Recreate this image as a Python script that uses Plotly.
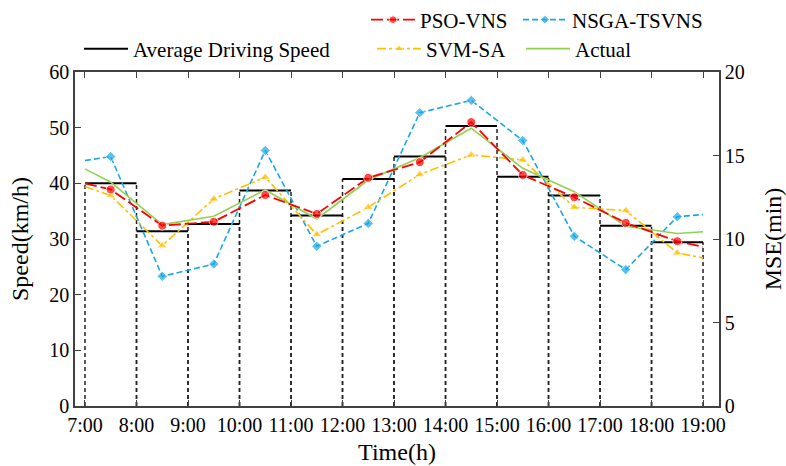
import plotly.graph_objects as go

# ---------------- data ----------------
hour_ticks = [7, 8, 9, 10, 11, 12, 13, 14, 15, 16, 17, 18, 19]
hour_labels = ["7:00", "8:00", "9:00", "10:00", "11:00", "12:00", "13:00",
               "14:00", "15:00", "16:00", "17:00", "18:00", "19:00"]

seg_start = [7, 8, 9, 10, 11, 12, 13, 14, 15, 16, 17, 18]
seg_end = [8, 9, 10, 11, 12, 13, 14, 15, 16, 17, 18, 19]
avg_speed = [40.0, 31.4, 32.7, 38.7, 34.2, 40.8, 44.8, 50.3, 41.2, 37.8, 32.4, 29.4]

t = [7.0, 7.5, 8.5, 9.5, 10.5, 11.5, 12.5, 13.5, 14.5, 15.5, 16.5, 17.5, 18.5, 19.0]
pso_vns = [40.0, 38.9, 32.4, 33.1, 37.9, 34.5, 41.0, 43.8, 51.0, 41.5, 37.5, 32.9, 29.6, 28.6]
nsga_tsvns = [44.1, 44.8, 23.3, 25.5, 45.9, 28.7, 32.8, 52.7, 54.9, 47.7, 30.5, 24.5, 34.0, 34.4]
svm_sa = [39.4, 37.8, 28.8, 37.2, 41.1, 30.8, 35.7, 41.6, 45.1, 44.2, 35.7, 35.1, 27.5, 26.6]
actual = [42.6, 40.2, 32.6, 34.1, 38.8, 33.6, 40.6, 44.6, 49.9, 42.7, 38.5, 32.3, 31.0, 31.3]

# ---------------- figure ----------------
FONT = "Liberation Serif, Times New Roman, serif"
AX = "#404040"
W, H = 786, 466

fig = go.Figure()

# dashed sides of the "bars"
vx, vy = [], []
for a, b, v in zip(seg_start, seg_end, avg_speed):
    vx += [a, a, None, b, b, None]
    vy += [0, v, None, 0, v, None]
fig.add_trace(go.Scatter(x=vx, y=vy, mode="lines", showlegend=False,
                         line=dict(color="#222222", width=1.5, dash="4px,3px"),
                         hoverinfo="skip"))

# solid tops
hx, hy = [], []
for a, b, v in zip(seg_start, seg_end, avg_speed):
    hx += [a, b, None]
    hy += [v, v, None]
fig.add_trace(go.Scatter(x=hx, y=hy, mode="lines", name="Average Driving Speed",
                         line=dict(color="black", width=2), legend="legend"))

msize = lambda s: [0] + [s] * (len(t) - 2) + [0]

fig.add_trace(go.Scatter(x=t, y=nsga_tsvns, mode="lines+markers", name="NSGA-TSVNS",
                         line=dict(color="#1AA7E6", width=1.6, dash="6px,3px"),
                         marker=dict(symbol="diamond", size=msize(8), color="#1AA7E6"),
                         legend="legend3"))
fig.add_trace(go.Scatter(x=t, y=svm_sa, mode="lines+markers", name="SVM-SA",
                         line=dict(color="#FFC000", width=1.6, dash="dashdot"),
                         marker=dict(symbol="triangle-up", size=msize(9), color="#FFC000"),
                         legend="legend4"))
fig.add_trace(go.Scatter(x=t, y=actual, mode="lines", name="Actual",
                         line=dict(color="#92D050", width=1.6),
                         legend="legend5"))
fig.add_trace(go.Scatter(x=t, y=pso_vns, mode="lines+markers", name="PSO-VNS",
                         line=dict(color="#FF0000", width=1.8, dash="12px,4px"),
                         marker=dict(symbol="circle", size=msize(9), color="#FF0000"),
                         legend="legend2"))

# dummy trace to activate right axis
fig.add_trace(go.Scatter(x=[None], y=[None], yaxis="y2", showlegend=False))

def leg(xpx, ypx):
    return dict(xref="container", yref="container", x=xpx / W, y=1 - ypx / H,
                xanchor="left", yanchor="middle", orientation="h",
                bgcolor="rgba(0,0,0,0)", font=dict(family=FONT, size=21, color="black"),
                itemwidth=44, tracegroupgap=0)

fig.update_layout(
    width=W, height=H,
    margin=dict(l=75, r=67, t=72, b=60, autoexpand=False),
    plot_bgcolor="white", paper_bgcolor="white",
    font=dict(family=FONT, size=20, color="black"),
    legend=leg(79, 49),
    legend2=leg(366, 20),
    legend3=leg(518, 20),
    legend4=leg(372, 49),
    legend5=leg(521, 49),
    xaxis=dict(range=[6.806, 19.31], tickmode="array", tickvals=hour_ticks,
               ticktext=hour_labels, ticks="inside", ticklen=6, tickcolor=AX,
               showline=True, linecolor=AX, linewidth=1.5, mirror="ticks",
               showgrid=False, zeroline=False, automargin=False,
               title=dict(text="Time(h)", standoff=8)),
    yaxis=dict(range=[0, 60], tickmode="linear", tick0=0, dtick=10,
               ticks="inside", ticklen=6, tickcolor=AX,
               showline=True, linecolor=AX, linewidth=1.5, mirror=False,
               showgrid=False, zeroline=False, automargin=False,
               title=dict(text="Speed(km/h)", standoff=14)),
    yaxis2=dict(range=[0, 20], tickmode="linear", tick0=0, dtick=5,
                overlaying="y", side="right", anchor="x",
                ticks="inside", ticklen=6, tickcolor=AX,
                showline=True, linecolor=AX, linewidth=1.5, automargin=False,
                showgrid=False, zeroline=False,
                title=dict(text="MSE(min)", standoff=20)),
)

fig.write_html("out.html", config={"displayModeBar": False},
               post_script="document.body.style.margin='0px';document.body.style.overflow='hidden';")
